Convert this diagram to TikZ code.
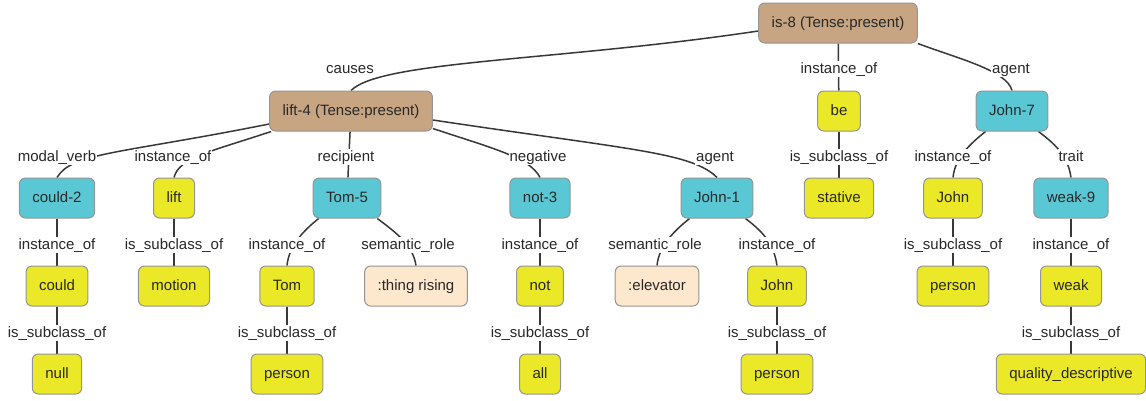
\documentclass[tikz,border=0pt]{standalone}
\usepackage{fontspec}
\setmainfont{Liberation Sans}
\pgfdeclarelayer{edges}
\pgfsetlayers{edges,main}
\definecolor{tan}{RGB}{200,165,130}
\definecolor{teal}{RGB}{90,200,212}
\definecolor{lemon}{RGB}{235,232,40}
\definecolor{peach}{RGB}{253,232,205}
\definecolor{ink}{RGB}{40,40,40}
\tikzset{
  box/.style={draw=black!42, line width=1pt, rounded corners=6pt,
    minimum height=40pt, inner xsep=13pt, text=ink,
    text height=11pt, text depth=2.5pt,
    font=\fontsize{15}{18}\selectfont},
  concept/.style={box, fill=tan},
  entity/.style={box, fill=teal},
  class/.style={box, fill=lemon},
  role/.style={box, fill=peach},
  rel/.style={fill=white, inner sep=1pt, text=ink,
    text height=11pt, text depth=3pt,
    font=\fontsize{15}{18}\selectfont},
  link/.style={draw=black!78, line width=1.5pt}
}
\begin{document}
\begin{tikzpicture}[x=1pt, y=-1pt]
    \useasboundingbox (0,0) rectangle (1146,400);
    % upper part
    \node[concept] (is8) at (838,23) {is-8 (Tense:present)};
    \node[concept] (lift4) at (351,111) {lift-4 (Tense:present)};
    \node[class] (be) at (839,111) {be};
    \node[entity] (john7) at (1012,111) {John-7};
    \node[entity] (could2) at (57,198) {could-2};
    \node[class] (liftc) at (174,198) {lift};
    \node[entity] (tom5) at (347,198) {Tom-5};
    \node[entity] (not3) at (540,198) {not-3};
    \node[entity] (john1) at (717,198) {John-1};
    \node[class] (stative) at (839,198) {stative};
    \node[class] (john) at (953,198) {John};
    \node[entity] (weak9) at (1071,198) {weak-9};
    % lower part
    \node[class] (could) at (57,286) {could};
    \node[class] (motion) at (174,286) {motion};
    \node[class] (tom) at (287,286) {Tom};
    \node[role] (thing) at (416,286) {:thing rising};
    \node[class] (notc) at (540,286) {not};
    \node[role] (elevator) at (657,286) {:elevator};
    \node[class] (johnc) at (777,286) {John};
    \node[class] (personb) at (953,286) {person};
    \node[class] (weak) at (1071,286) {weak};
    \node[class] (null) at (57,374) {null};
    \node[class] (person) at (287,374) {person};
    \node[class] (all) at (540,374) {all};
    \node[class] (persona) at (777,374) {person};
    \node[class] (quality) at (1071,374) {quality\_descriptive};
    % relation labels
    \node[rel] (l-causes) at (350,69) {causes};
    \node[rel] (l-be) at (839,69) {instance\_of};
    \node[rel] (l-agent7) at (1011,69) {agent};
    \node[rel] (l-modal) at (57,157) {modal\_verb};
    \node[rel] (l-lift) at (173,157) {instance\_of};
    \node[rel] (l-recip) at (346,157) {recipient};
    \node[rel] (l-neg) at (538,157) {negative};
    \node[rel] (l-agent1) at (715,157) {agent};
    \node[rel] (l-stative) at (839,157) {is\_subclass\_of};
    \node[rel] (l-john) at (953,157) {instance\_of};
    \node[rel] (l-trait) at (1071,157) {trait};
    \node[rel] (l-could) at (57,245) {instance\_of};
    \node[rel] (l-motion) at (174,245) {is\_subclass\_of};
    \node[rel] (l-tom) at (287,245) {instance\_of};
    \node[rel] (l-thing) at (408,245) {semantic\_role};
    \node[rel] (l-not) at (540,245) {instance\_of};
    \node[rel] (l-elev) at (655,245) {semantic\_role};
    \node[rel] (l-johnc) at (777,245) {instance\_of};
    \node[rel] (l-personb) at (953,245) {is\_subclass\_of};
    \node[rel] (l-weak) at (1071,245) {instance\_of};
    \node[rel] (l-null) at (57,333) {is\_subclass\_of};
    \node[rel] (l-person) at (287,333) {is\_subclass\_of};
    \node[rel] (l-all) at (540,333) {is\_subclass\_of};
    \node[rel] (l-persona) at (777,333) {is\_subclass\_of};
    \node[rel] (l-quality) at (1071,333) {is\_subclass\_of};
    \begin{pgfonlayer}{edges}
    \draw[link] ([yshift=-8pt]is8.west) .. controls +(-200,30) and +(30,-30) .. (lift4.north);
    \draw[link] (is8.south east) .. controls +(40,15) and +(-5,-20) .. (john7.north);
    \draw[link] ([yshift=-13pt]lift4.west) .. controls +(-150,30) and +(15,-25) .. (could2.north);
    \draw[link] ([xshift=2pt]lift4.south west) .. controls +(-60,20) and +(5,-20) .. (liftc.north);
    \draw[link] ([yshift=3pt]lift4.south east) .. controls +(60,20) and +(-10,-20) .. (not3.north);
    \draw[link] ([yshift=-9pt]lift4.east) .. controls +(200,30) and +(-25,-25) .. (john1.north);
    \draw[link] ([xshift=6pt]tom5.south west) .. controls +(-15,12) and +(2,-20) .. (tom.north);
    \draw[link] ([xshift=-4pt]tom5.south east) .. controls +(20,15) and +(-3,-20) .. (thing.north);
    \draw[link] ([xshift=9pt]john1.south west) .. controls +(-15,12) and +(2,-20) .. (elevator.north);
    \draw[link] ([xshift=-8pt]john1.south east) .. controls +(20,15) and +(-3,-20) .. (johnc.north);
    \draw[link] ([xshift=10pt]john7.south west) .. controls +(-15,12) and +(2,-20) .. (john.north);
    \draw[link] ([xshift=-10pt]john7.south east) .. controls +(20,15) and +(-3,-20) .. (weak9.north);
    \foreach \a/\b in {is8/be, lift4/tom5, be/stative, could2/could, could/null,
        liftc/motion, tom/person, not3/notc, notc/all, johnc/persona,
        john/personb, weak9/weak, weak/quality}
      \draw[link] (\a) -- (\b);
    \end{pgfonlayer}
\end{tikzpicture}
\end{document}
